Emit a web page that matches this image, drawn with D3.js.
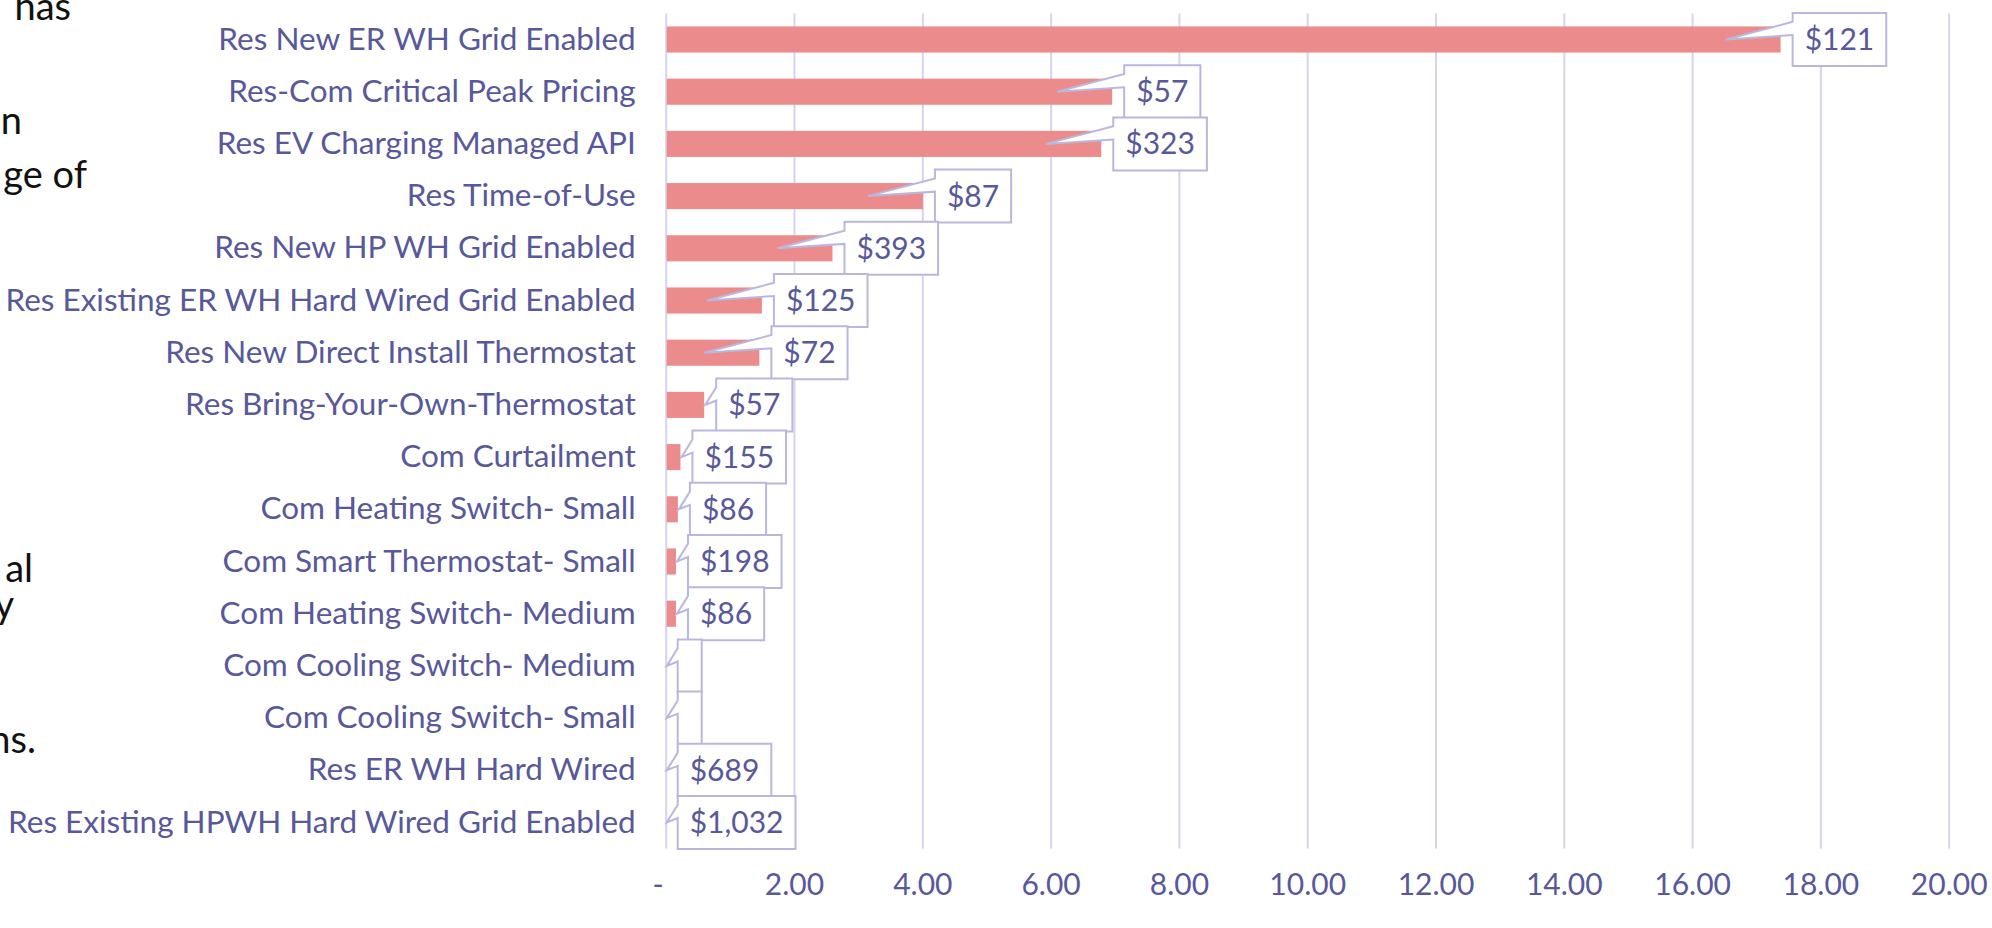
<!DOCTYPE html>
<html>
<head>
<meta charset="utf-8">
<script src="https://cdn.jsdelivr.net/npm/d3@7"></script>
<style>
  html, body { margin: 0; padding: 0; background: #ffffff; }
  svg { display: block; }
</style>
</head>
<body>
<svg id="chart" width="1992" height="928"></svg>
<script>
// ---------------- DATA ----------------
const categories = [
  "Res New ER WH Grid Enabled",
  "Res-Com Critical Peak Pricing",
  "Res EV Charging Managed API",
  "Res Time-of-Use",
  "Res New HP WH Grid Enabled",
  "Res Existing ER WH Hard Wired Grid Enabled",
  "Res New Direct Install Thermostat",
  "Res Bring-Your-Own-Thermostat",
  "Com Curtailment",
  "Com Heating Switch- Small",
  "Com Smart Thermostat- Small",
  "Com Heating Switch- Medium",
  "Com Cooling Switch- Medium",
  "Com Cooling Switch- Small",
  "Res ER WH Hard Wired",
  "Res Existing HPWH Hard Wired Grid Enabled"
];
const values = [17.38, 6.96, 6.79, 4.01, 2.60, 1.50, 1.46, 0.60, 0.23, 0.19, 0.16, 0.16, 0, 0, 0, 0];
const costLabels = ["$121", "$57", "$323", "$87", "$393", "$125", "$72", "$57", "$155", "$86", "$198", "$86", "", "", "$689", "$1,032"];
const xTicks = [0, 2, 4, 6, 8, 10, 12, 14, 16, 18, 20];
// partially visible slide body text at the left edge
const sideText = ["has", "n", "ge of", "al", "y", "ns."];

// ---------------- STYLE / LAYOUT ----------------
const plot = { left: 665.7, right: 1948.7, top: 13.4, bottom: 848.6 };
const barColor = "#EC8B8B";
const textColor = "#58589A";
const gridColor = "#D6D4EC";
const boxStroke = "#BAB7DE";
const labelFont = "Lato, 'Open Sans', sans-serif";
const sidePos = [
  { x: 71, y: 20 }, { x: 22, y: 134 }, { x: 87, y: 188 },
  { x: 33, y: 582 }, { x: 14, y: 618 }, { x: 36, y: 753 }
];

const svg = d3.select("#chart");

const x = d3.scaleLinear().domain([0, 20]).range([plot.left, plot.right]);
const y = d3.scaleBand().domain(categories)
  .range([plot.top, plot.bottom])
  .paddingInner(0.5).paddingOuter(0.25);

// side body text
svg.append("g").selectAll("text").data(sideText).join("text")
  .attr("x", (d, i) => sidePos[i].x)
  .attr("y", (d, i) => sidePos[i].y)
  .attr("text-anchor", "end")
  .style("font-family", labelFont)
  .style("font-size", "38px")
  .style("fill", "#111")
  .text(d => d);

// x axis with gridlines
const xAxis = d3.axisBottom(x)
  .tickValues(xTicks)
  .tickSize(-(plot.bottom - plot.top))
  .tickPadding(25)
  .tickFormat(d => d === 0 ? "-" : d3.format(".2f")(d));

const gx = svg.append("g")
  .attr("transform", `translate(0,${plot.bottom})`)
  .call(xAxis);
gx.select(".domain").remove();
gx.selectAll(".tick line").attr("stroke", gridColor).attr("stroke-width", 2);
gx.selectAll(".tick text")
  .style("font-family", labelFont)
  .style("font-size", "30px")
  .style("fill", textColor)
  .attr("dx", d => d === 0 ? "-8" : "0");

// y axis labels
const yAxis = d3.axisLeft(y).tickSize(0).tickPadding(30);
const gy = svg.append("g")
  .attr("transform", `translate(${plot.left},0)`)
  .call(yAxis);
gy.select(".domain").remove();
gy.selectAll(".tick text")
  .style("font-family", labelFont)
  .style("font-size", "31.5px")
  .style("fill", textColor);

// bars
svg.append("g").selectAll("rect").data(categories).join("rect")
  .attr("x", x(0) + 1)
  .attr("y", d => y(d))
  .attr("height", y.bandwidth())
  .attr("width", (d, i) => Math.max(0, x(values[i]) - x(0) - 1))
  .attr("fill", barColor);

// callout data labels
const measure = svg.append("text")
  .style("font-family", labelFont).style("font-size", "30px");
const boxH = 53, pad = 12;
const callouts = svg.append("g");
categories.forEach((c, i) => {
  measure.text(costLabels[i]);
  const tw = costLabels[i] ? measure.node().getComputedTextLength() : 0;
  const bw = tw + 2 * pad;
  const cy = y(c) + y.bandwidth() / 2;
  const end = x(values[i]);
  const left = end + 12;
  const top = cy - boxH / 2;
  const tipX = (end - x(0)) > 60 ? end - 55 : end + 1;
  const tipY = cy;
  const path = `M${left},${top} H${left + bw} V${top + boxH} H${left} ` +
    `V${top + boxH * 5 / 12} L${tipX},${tipY} L${left},${top + boxH * 2 / 12} Z`;
  callouts.append("path")
    .attr("d", path)
    .attr("fill", "#fff")
    .attr("stroke", boxStroke)
    .attr("stroke-width", 2)
    .attr("stroke-linejoin", "miter");
  callouts.append("text")
    .attr("x", left + bw / 2)
    .attr("y", cy)
    .attr("dy", "0.35em")
    .attr("text-anchor", "middle")
    .style("font-family", labelFont)
    .style("font-size", "30px")
    .style("fill", textColor)
    .text(costLabels[i]);
});
measure.remove();
</script>
</body>
</html>
